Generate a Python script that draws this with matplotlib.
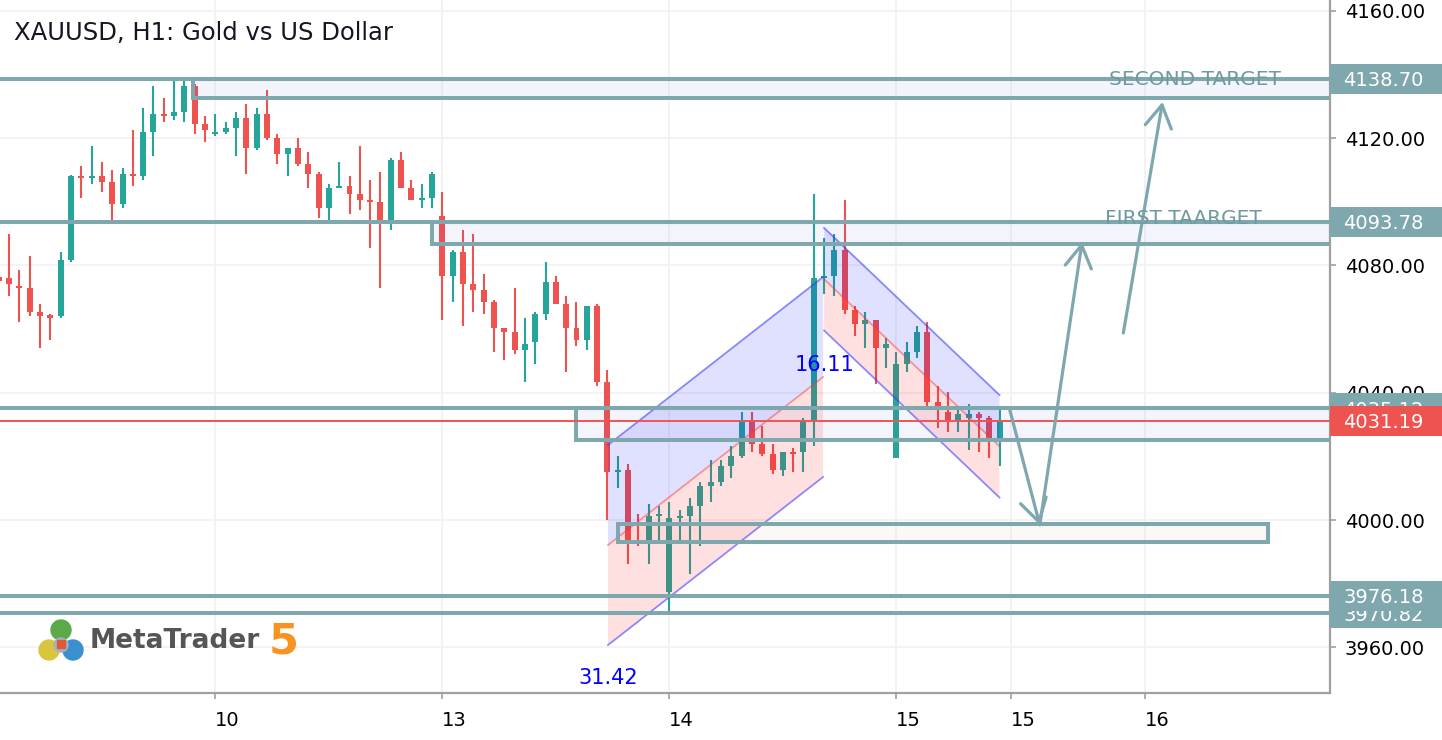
import matplotlib
matplotlib.use("Agg")
import numpy as np
import matplotlib.pyplot as plt
from matplotlib.patches import Rectangle, Polygon, FancyArrowPatch, Circle
from matplotlib.transforms import blended_transform_factory

# XAUUSD H1 bars (first bar is cut by the left edge)
opens = [4076.4, 4076.1, 4073.6, 4073.0, 4065.4, 4064.5, 4064.2, 4081.7, 4108.1, 4107.5,
         4108.1, 4106.2, 4099.3, 4108.7, 4108.1, 4121.9, 4127.6, 4127.0, 4128.2, 4136.4,
         4124.5, 4121.3, 4121.9, 4123.2, 4126.3, 4116.9, 4127.6, 4120.0, 4115.0, 4116.9,
         4111.9, 4108.7, 4098.1, 4104.4, 4105.0, 4102.5, 4100.6, 4100.0, 4094.3, 4113.1,
         4104.4, 4100.6, 4101.2, 4095.6, 4076.7, 4084.3, 4074.2, 4072.3, 4068.5, 4060.4,
         4059.1, 4053.5, 4056.0, 4064.8, 4074.8, 4067.9, 4060.4, 4056.6, 4067.3, 4043.4,
         4015.1, 4015.8, 3999.5, 3993.8, 4001.4, 3977.5, 4000.7, 4001.4, 4004.5, 4010.8,
         4012.0, 4017.0, 4020.2, 4031.5, 4024.0, 4020.8, 4015.8, 4021.4, 4021.4, 4031.5,
         4076.1, 4076.7, 4084.9, 4066.0, 4061.6, 4062.9, 4054.1, 4019.5, 4049.1, 4052.9,
         4059.1, 4037.2, 4034.0, 4031.5, 4032.1, 4033.4, 4032.1, 4025.8]
highs = [4078.6, 4089.9, 4078.6, 4083.0, 4067.9, 4064.8, 4084.3, 4108.5, 4111.3, 4117.5,
         4112.5, 4110.0, 4110.6, 4122.6, 4129.5, 4136.4, 4132.6, 4138.3, 4138.3, 4136.9,
         4127.0, 4127.6, 4125.1, 4128.2, 4130.7, 4129.5, 4135.1, 4121.3, 4116.9, 4120.0,
         4115.7, 4109.4, 4105.6, 4112.5, 4108.1, 4117.5, 4106.9, 4109.4, 4113.8, 4115.7,
         4106.9, 4105.6, 4109.4, 4103.1, 4084.9, 4091.2, 4089.9, 4077.4, 4069.2, 4060.4,
         4072.9, 4063.5, 4065.4, 4081.1, 4076.7, 4070.4, 4068.5, 4067.3, 4067.9, 4047.2,
         4020.2, 4017.7, 4002.0, 4005.1, 4004.5, 4005.7, 4003.2, 4007.0, 4012.0, 4018.9,
         4018.9, 4023.3, 4034.0, 4034.0, 4029.6, 4024.0, 4021.4, 4022.7, 4032.1, 4102.5,
         4088.7, 4089.9, 4100.6, 4067.3, 4065.4, 4062.9, 4057.3, 4052.9, 4056.0, 4061.0,
         4062.3, 4042.2, 4040.3, 4034.6, 4036.5, 4034.0, 4032.7, 4034.6]
lows = [4073.0, 4070.4, 4062.3, 4064.2, 4054.1, 4056.6, 4063.5, 4081.1, 4101.2, 4105.6,
        4103.1, 4094.3, 4098.1, 4105.0, 4106.9, 4114.4, 4125.1, 4125.7, 4125.1, 4121.3,
        4118.8, 4120.7, 4121.3, 4114.4, 4108.7, 4116.3, 4119.4, 4111.9, 4108.1, 4111.3,
        4104.3, 4094.9, 4094.3, 4104.4, 4096.2, 4097.4, 4085.5, 4072.9, 4091.2, 4104.4,
        4100.6, 4098.1, 4098.1, 4062.9, 4068.5, 4061.0, 4065.4, 4064.8, 4052.9, 4050.3,
        4052.2, 4043.4, 4049.1, 4062.9, 4067.9, 4046.6, 4054.8, 4053.5, 4042.2, 4000.1,
        4010.1, 3986.3, 3991.9, 3986.3, 3993.8, 3971.2, 3993.8, 3983.1, 3991.9, 4005.7,
        4010.8, 4013.3, 4019.5, 4021.4, 4020.2, 4014.5, 4013.9, 4015.1, 4015.1, 4023.3,
        4071.1, 4070.4, 4064.8, 4057.9, 4054.1, 4042.8, 4047.8, 4019.5, 4046.6, 4051.0,
        4035.9, 4029.0, 4027.7, 4027.7, 4022.1, 4021.4, 4019.5, 4017.0]
closes = [4075.1, 4074.2, 4073.0, 4065.4, 4064.2, 4063.5, 4081.7, 4108.1, 4107.5, 4108.1,
          4106.2, 4099.3, 4108.7, 4108.1, 4121.9, 4127.6, 4127.0, 4128.2, 4136.4, 4124.5,
          4122.6, 4121.9, 4123.2, 4126.3, 4116.9, 4127.6, 4120.0, 4115.0, 4116.9, 4111.9,
          4108.7, 4098.1, 4104.4, 4105.0, 4102.5, 4100.6, 4100.0, 4093.7, 4113.1, 4104.4,
          4100.6, 4101.2, 4108.7, 4076.7, 4084.3, 4074.2, 4072.3, 4068.5, 4060.4, 4059.1,
          4053.5, 4055.4, 4064.8, 4074.8, 4067.9, 4060.4, 4056.6, 4067.3, 4043.4, 4015.1,
          4015.8, 3993.8, 3998.5, 4001.4, 4002.0, 4000.7, 4001.4, 4004.5, 4010.8, 4012.0,
          4017.0, 4020.2, 4031.5, 4024.0, 4020.8, 4015.8, 4021.4, 4020.8, 4031.5, 4076.1,
          4076.7, 4084.9, 4066.0, 4061.6, 4062.9, 4054.1, 4055.4, 4049.1, 4052.9, 4059.1,
          4037.2, 4035.9, 4031.5, 4033.4, 4033.4, 4032.1, 4025.8, 4031.19]

day_pos = [21, 43, 65, 87, 98.1, 111.1]
day_labels = ["10", "13", "14", "15", "15", "16"]
price_ticks = [3960, 4000, 4040, 4080, 4120, 4160]

levels = [4138.70, 4093.78, 4035.12, 3976.18, 3970.82]
last_price = 4031.19

# zones: x start, x end, top, bottom
zones = [(18.8, 140, 4138.70, 4132.6),
         (42.0, 140, 4093.78, 4086.8),
         (56.0, 140, 4035.12, 4025.2),
         (60.0, 123.0, 3998.8, 3993.2)]

# parallel channels: x start/end, upper line start/end, half width
channels = [(59.05, 79.9, 4023.6, 4076.4, 31.42),
            (80.0, 97.0, 4091.8, 4039.3, 16.11)]
channel_labels = [("31.42", 59.05, 3950.4), ("16.11", 80.0, 4048.8)]

arrows = [((98.0, 4034.6), (100.9, 3998.5)),
          ((100.9, 3998.5), (105.0, 4087.4)),
          ((109.0, 4058.8), (112.8, 4131.4))]

GREEN = "#26A69A"
RED = "#EF5350"
TEAL = "#7FA8AE"

fig = plt.figure(figsize=(14.42, 7.40), dpi=100)
ax = fig.add_axes([0, 47.3 / 740, 1330 / 1442, 692.7 / 740])
ax.set_xlim(0.126, 129.03)
ax.set_ylim(3945.8, 4163.4)

# grid
for p in price_ticks:
    ax.axhline(p, color="#F2F2F4", lw=1.3, zorder=0)
for d in day_pos:
    ax.axvline(d, color="#F2F2F4", lw=1.3, zorder=0)

# candles
o, h, l, c = map(np.array, (opens, highs, lows, closes))
x = np.arange(len(o))
col = np.where(c >= o, GREEN, RED)
ax.vlines(x, l, h, colors=col, lw=1.5, zorder=3)
ax.bar(x, np.maximum(np.abs(c - o), 0.6), width=0.58, bottom=np.minimum(o, c),
       color=col, linewidth=0, zorder=3.1)

# zones
for i, (x0, x1, top, bot) in enumerate(zones):
    fc = (0.8, 0.3, 0.3, 0.04) if i == 3 else (0.3, 0.3, 0.8, 0.06)
    ax.add_patch(Rectangle((x0, bot), x1 - x0, top - bot, facecolor=fc,
                           edgecolor=TEAL, lw=2.9, zorder=5))

# horizontal levels
for lv in levels:
    ax.axhline(lv, color=TEAL, lw=2.9, zorder=5.1)
ax.axhline(last_price, color="#F05454", lw=1.4, zorder=5.2)

# channels
for x0, x1, t0, t1, w in channels:
    ax.add_patch(Polygon([(x0, t0), (x1, t1), (x1, t1 - w), (x0, t0 - w)],
                         facecolor=(0, 0, 1, 0.12), edgecolor="none", zorder=4))
    ax.add_patch(Polygon([(x0, t0 - w), (x1, t1 - w), (x1, t1 - 2 * w), (x0, t0 - 2 * w)],
                         facecolor=(1, 0, 0, 0.12), edgecolor="none", zorder=4))
    ax.plot([x0, x1], [t0, t1], color=(0.2, 0.2, 1, 0.55), lw=1.3, zorder=4.5)
    ax.plot([x0, x1], [t0 - w, t1 - w], color=(1, 0.2, 0.2, 0.45), lw=1.3, zorder=4.5)
    ax.plot([x0, x1], [t0 - 2 * w, t1 - 2 * w], color=(0.2, 0.2, 1, 0.55), lw=1.3, zorder=4.5)
for txt, tx, ty in channel_labels:
    ax.text(tx, ty, txt, color="#0000FF", fontsize=15, ha="center", va="center", zorder=8)

# arrows
for a, b in arrows:
    ax.add_patch(FancyArrowPatch(a, b, arrowstyle="->,head_length=1.6,head_width=0.95",
                                 mutation_scale=10, color=TEAL, lw=2.3,
                                 shrinkA=0, shrinkB=0, zorder=6))

ax.text(107.6, 4136.8, "SECOND TARGET", color="#6F9AA0", fontsize=14.5,
        ha="left", va="baseline", zorder=6)
ax.text(107.2, 4092.9, "FIRST TAARGET", color="#6F9AA0", fontsize=14.5,
        ha="left", va="baseline", zorder=6)

# axes styling
for s in ("top", "left"):
    ax.spines[s].set_visible(False)
for s in ("right", "bottom"):
    ax.spines[s].set_color("#A0A0A0")
    ax.spines[s].set_linewidth(1.6)
ax.yaxis.tick_right()
ax.set_yticks(price_ticks, [f"{p:.2f}" for p in price_ticks])
ax.set_xticks(day_pos, day_labels)
for lab in ax.get_xticklabels():
    lab.set_horizontalalignment("left")
ax.tick_params(axis="y", length=4.5, width=1.2, color="#A0A0A0", labelsize=14, pad=6)
ax.tick_params(axis="x", length=4.5, width=1.2, color="#A0A0A0", labelsize=14, pad=9)
ax.set_facecolor("white")

# price boxes on the right scale
blend = blended_transform_factory(ax.transAxes, ax.transData)
boxes = [(3970.82, TEAL), (3976.18, TEAL), (4138.70, TEAL), (4093.78, TEAL),
         (4035.12, TEAL), (last_price, "#EF5350")]
for k, (lv, fc) in enumerate(boxes):
    ax.add_patch(Rectangle((1.0, lv - 4.7), 0.09, 9.4, transform=blend, facecolor=fc,
                           edgecolor="none", clip_on=False, zorder=10 + k))
    ax.text(1.0098, lv, f"{lv:.2f}", transform=blend, color="white", fontsize=14,
            ha="left", va="center_baseline", clip_on=False, zorder=10.5 + k)

# title
fig.text(14 / 1442, 1 - 33 / 740, "XAUUSD, H1: Gold vs US Dollar", fontsize=17.5,
         color="#131722", ha="left", va="center")

# MetaTrader 5 watermark
lax = fig.add_axes([0, 0, 1, 1])
lax.set_xlim(0, 1442)
lax.set_ylim(740, 0)
lax.axis("off")
lax.add_patch(Circle((61, 630), 10, color="#5BAA48"))
lax.add_patch(Circle((49, 650), 10, color="#D9C63C"))
lax.add_patch(Circle((73, 650), 10, color="#3A8FD0"))
lax.add_patch(Circle((61, 645), 7, color="#9FB4C0"))
lax.add_patch(Rectangle((57, 640), 8, 8, color="#E05A3A"))
lax.text(90, 641, "MetaTrader", fontsize=19, fontweight="bold", color="#555555",
         ha="left", va="center")
lax.text(269, 641, "5", fontsize=31, fontweight="bold", color="#F7931E",
         ha="left", va="center")

fig.savefig("out.png", dpi=100)
